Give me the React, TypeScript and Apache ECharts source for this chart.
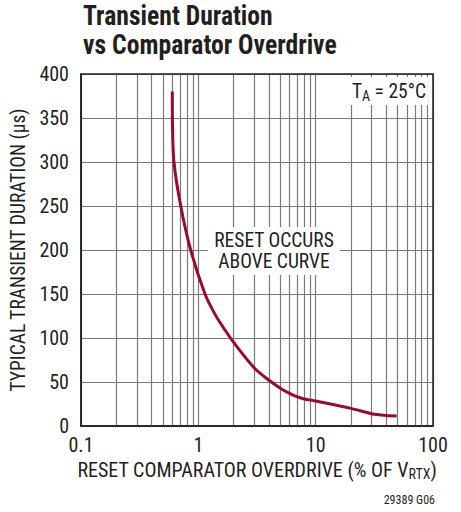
import React, { useEffect, useRef } from "react";
import * as echarts from "echarts";

const overdrive = [0.6, 0.601, 0.62, 0.708, 0.861, 1.14, 1.4, 1.69, 2, 3, 4, 5, 6, 7, 8, 10, 20, 30, 40, 49];
const duration = [380, 350, 300, 250, 200, 150, 126, 109, 95, 66, 52, 43, 37, 33, 30.7, 28.4, 20, 14, 12, 11.5];
const minorGrid = [0.2, 0.3, 0.4, 0.5, 0.6, 0.7, 0.8, 0.9, 2, 3, 4, 5, 6, 7, 8, 9, 20, 30, 40, 50, 60, 70, 80, 90];
const yTicks = [0, 50, 100, 150, 200, 250, 300, 350, 400];

const FONT = "'Liberation Sans Narrow', 'Roboto Condensed', 'DejaVu Sans Condensed', 'Liberation Sans', sans-serif";
const INK = "#231f20";

export default function App() {
  const ref = useRef<HTMLDivElement>(null);
  useEffect(() => {
    if (!ref.current) return;
    const chart = echarts.init(ref.current, undefined, { renderer: "svg" });
    chart.setOption({
      animation: false,
      backgroundColor: "#ffffff",
      grid: { left: 81, top: 74, width: 352, height: 352, containLabel: false },
      xAxis: {
        type: "log",
        logBase: 10,
        min: 0.1,
        max: 100,
        axisLine: { show: true, lineStyle: { color: INK, width: 1.5 } },
        axisTick: { show: false },
        splitLine: { show: true, lineStyle: { color: "#7a7a7a", width: 1.2 } },
        axisLabel: {
          fontFamily: FONT,
          fontSize: 20,
          color: INK,
          margin: 9,
          formatter: (v: number) => (v < 1 ? v.toFixed(1) : String(Math.round(v))),
        },
        name: "{a|RESET COMPARATOR OVERDRIVE (% OF V}{s|RTX}{a|)}",
        nameLocation: "middle",
        nameGap: 32,
        nameTextStyle: {
          rich: {
            a: { fontFamily: FONT, fontSize: 20, color: INK },
            s: { fontFamily: FONT, fontSize: 14, color: INK, padding: [9, 0, 0, 0] },
          },
        },
      },
      yAxis: {
        type: "value",
        min: 0,
        max: 400,
        interval: 50,
        axisLine: { show: true, lineStyle: { color: INK, width: 1.5 } },
        axisTick: { show: false },
        splitLine: { show: true, lineStyle: { color: "#7a7a7a", width: 1.2 } },
        axisLabel: {
          fontFamily: FONT,
          fontSize: 20,
          color: INK,
          margin: 12,
          formatter: (v: number) => (yTicks.includes(v) ? String(v) : ""),
        },
        name: "TYPICAL TRANSIENT DURATION (μs)",
        nameLocation: "middle",
        nameGap: 50,
        nameTextStyle: { fontFamily: FONT, fontSize: 19.5, color: INK },
      },
      graphic: [
        {
          type: "text",
          x: 83,
          y: 1,
          scaleX: 0.95,
          style: {
            text: "Transient Duration\nvs Comparator Overdrive",
            fontFamily: FONT,
            fontWeight: "bold",
            fontSize: 27,
            lineHeight: 29,
            fill: INK,
            verticalAlign: "top",
          },
        },
        {
          type: "rect",
          z: 100,
          shape: { x: 81, y: 74, width: 352, height: 352 },
          style: { fill: "none", stroke: INK, lineWidth: 1.5 },
          silent: true,
        },
        {
          type: "text",
          z: 101,
          x: 428,
          y: 77,
          style: {
            text: "{a|T}{s|A}{a| = 25°C}",
            align: "right",
            verticalAlign: "top",
            backgroundColor: "#ffffff",
            padding: [2, 2, 2, 4],
            rich: {
              a: { fontFamily: FONT, fontSize: 19.5, fill: INK },
              s: { fontFamily: FONT, fontSize: 14, fill: INK, padding: [10, 0, 0, 0] },
            },
          },
        },
        {
          type: "text",
          z: 101,
          x: 274,
          y: 251,
          style: {
            text: "RESET OCCURS\nABOVE CURVE",
            align: "center",
            verticalAlign: "middle",
            fontFamily: FONT,
            fontSize: 19.5,
            lineHeight: 21,
            fill: INK,
            backgroundColor: "#ffffff",
            padding: [3, 6, 3, 6],
          },
        },
        {
          type: "text",
          x: 435,
          y: 500,
          style: {
            text: "29389 G06",
            align: "right",
            verticalAlign: "middle",
            fontFamily: FONT,
            fontSize: 12,
            fill: INK,
          },
        },
      ],
      series: [
        {
          type: "line",
          data: overdrive.map((x, i) => [x, duration[i]]),
          smooth: 0.3,
          showSymbol: false,
          symbol: "none",
          z: 50,
          lineStyle: { color: "#9b0a2e", width: 3 },
          markLine: {
            silent: true,
            symbol: ["none", "none"],
            label: { show: false },
            z: 1,
            lineStyle: { color: "#7a7a7a", width: 1.2, type: "solid" },
            data: minorGrid.map((v) => ({ xAxis: v })),
          },
        },
      ],
    });
    return () => chart.dispose();
  }, []);
  return <div ref={ref} style={{ position: "fixed", left: 0, top: 0, width: 461, height: 512 }} />;
}
